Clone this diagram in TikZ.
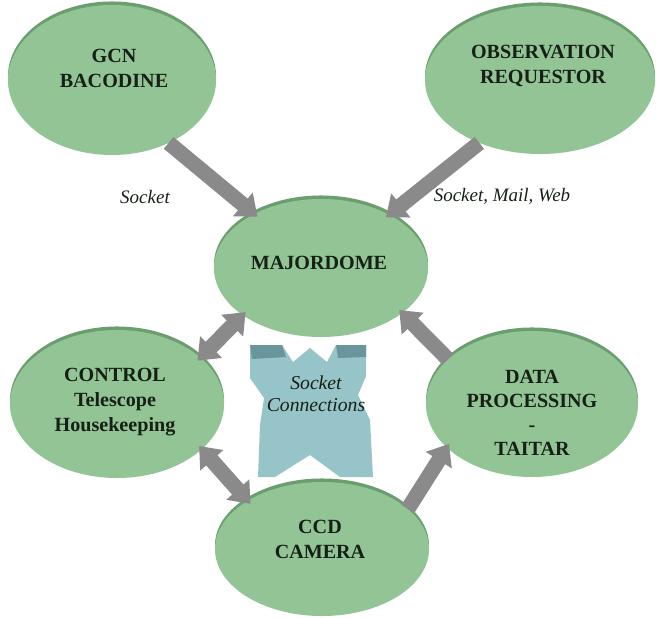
\documentclass[tikz,border=0pt]{standalone}
\usepackage{fontspec}
\setmainfont{Liberation Serif}
\usetikzlibrary{arrows.meta,shapes.geometric}
\definecolor{discgreen}{RGB}{147,196,150}
\definecolor{rimgreen}{RGB}{106,158,110}
\definecolor{pipegray}{RGB}{138,138,138}
\definecolor{hubteal}{RGB}{151,196,200}
\definecolor{hubdark}{RGB}{104,150,156}
\definecolor{inkdark}{RGB}{22,32,22}

\begin{document}
\begin{tikzpicture}[x=0.025cm,y=-0.025cm,
  disc/.style={ellipse,fill=discgreen,inner sep=0pt,outer sep=0pt,
    preaction={fill=rimgreen,transform canvas={yshift=2.5pt}}},
  disctext/.style={font=\fontsize{14.3}{17.8}\selectfont\bfseries,align=center,text=inkdark},
  linktext/.style={font=\fontsize{13.5}{16}\selectfont\itshape,align=center,text=inkdark},
  pipe/.style={line width=0.38cm,draw=pipegray,shorten >=-3pt,-{Triangle[width=0.74cm,length=0.48cm]}},
  pipetwo/.style={line width=0.38cm,draw=pipegray,shorten >=-3pt,shorten <=-3pt,
    {Triangle[width=0.74cm,length=0.48cm]}-{Triangle[width=0.74cm,length=0.48cm]}}]
\useasboundingbox (0,0) rectangle (656,617);
\node[disc,minimum width=5.2cm,minimum height=3.75cm] (gcn) at (112,80) {};
\node[disc,minimum width=5.75cm,minimum height=3.7cm] (obs) at (540,80) {};
\node[disc,minimum width=5.35cm,minimum height=3.45cm] (maj) at (321,268) {};
\node[disc,minimum width=5.35cm,minimum height=3.7cm] (ctl) at (117,404) {};
\node[disc,minimum width=5.3cm,minimum height=3.65cm] (dat) at (532,404) {};
\node[disc,minimum width=5.35cm,minimum height=3.35cm] (ccd) at (322,549) {};
\fill[hubteal] (250,345) -- (282,345) -- (293,362) -- (310,348) -- (327,362) -- (336,345) -- (366,345)
  -- (366,376) -- (358,395) -- (370,420) -- (373,477) -- (340,477) -- (310,455) -- (275,477)
  -- (258,477) -- (260,425) -- (264,398) -- (250,378) -- cycle;
\fill[hubdark] (250,345) -- (282,345) -- (286,357) -- (252,359) -- cycle;
\fill[hubdark] (336,345) -- (366,345) -- (366,357) -- (338,358) -- cycle;
\node[disctext] (gcntext) at (114,68) {GCN\\BACODINE};
\node[disctext] (obstext) at (543,66) {OBSERVATION\\REQUESTOR};
\node[disctext] (majtext) at (319,263) {MAJORDOME};
\node[disctext] (ctltext) at (115,402) {CONTROL\\Telescope\\Housekeeping};
\node[disctext,font=\fontsize{14.3}{17}\selectfont\bfseries] (dattext) at (532,413) {DATA\\PROCESSING\\-\\TAITAR};
\node[disctext] (ccdtext) at (320,539) {CCD\\CAMERA};
\node[linktext] (socka) at (145,197) {Socket};
\node[linktext] (sockb) at (502,196) {Socket, Mail, Web};
\node[linktext,font=\fontsize{14}{16}\selectfont\itshape] (hubtext) at (316,394) {Socket\\Connections};
\draw[pipe] (gcn.-48) -- (maj.141);
\draw[pipe] (obs.226) -- (maj.38);
\draw[pipetwo] (maj.211) -- (ctl.29);
\draw[pipe] (dat.152) -- (maj.-29);
\draw[pipetwo] (ctl.-28) -- (ccd.147);
\draw[pipe] (ccd.25) -- (dat.207);
\end{tikzpicture}
\end{document}
